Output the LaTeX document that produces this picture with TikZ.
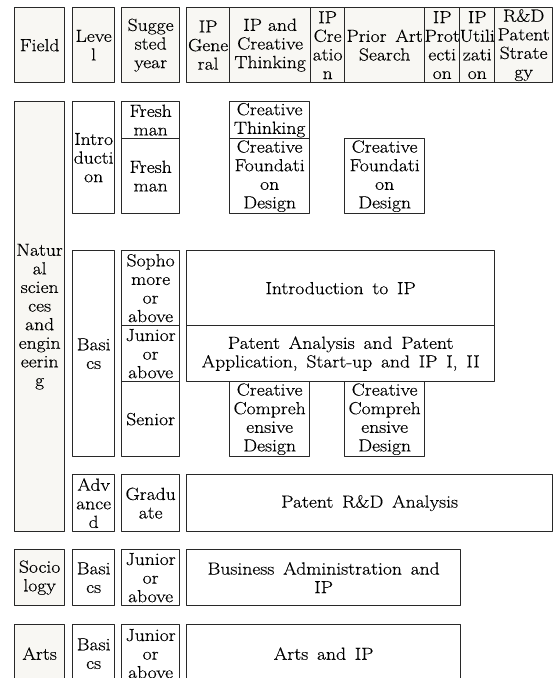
\documentclass[tikz,border=0pt]{standalone}
\usepackage{fontspec}
\setmainfont{Latin Modern Roman}[FakeStretch=1.12,FakeBold=0.4]
\definecolor{beige}{RGB}{248,247,243}
\definecolor{edge}{RGB}{40,40,40}
\begin{document}
\begin{tikzpicture}[x=1pt,y=-1pt,line join=round,
    box/.style={draw=edge,line width=1.3pt,fill=white,anchor=north west,align=center,inner sep=0pt,
        font=\fontsize{17.5}{18.6}\selectfont},
    head/.style={box,fill=beige},
    wh/.style 2 args={minimum width=#1pt,minimum height=#2pt}]
    \useasboundingbox (0,0) rectangle (558,678);
    % header row
    \node[head,wh={50}{75}] (field) at (14,7) {Field};
    \node[head,wh={42}{75}] (level) at (72,7) {Leve\\l};
    \node[head,wh={58}{75}] (year) at (121,7) {Sugge\\sted\\year};
    \node[head,wh={43}{75}] (ipgen) at (186,7) {IP\\Gene\\ral};
    \node[head,wh={81}{75}] (ipthink) at (229,7) {IP and\\Creative\\Thinking};
    \node[head,wh={34}{75}] (ipcre) at (310,7) {IP\\Cre\\atio\\n};
    \node[head,wh={80}{75}] (prior) at (344,7) {Prior\enspace Art\\Search};
    \node[head,wh={35}{75}] (ipprot) at (424,7) {IP\\Prot\\ecti\\on};
    \node[head,wh={35}{75}] (iputil) at (459,7) {IP\\Utili\\zati\\on};
    \node[head,wh={58}{75}] (rndstrat) at (494,7) {R\&D\\Patent\\Strate\\gy};
    % natural sciences and engineering
    \node[head,wh={50}{430}] (natsci) at (14,101) {Natur\\al\\scien\\ces\\and\\engin\\eerin\\g};
    \node[box,wh={42}{112}] (intro) at (72,101) {Intro\\ducti\\on};
    \node[box,wh={58}{37}] (fresha) at (121,101) {Fresh\\man};
    \node[box,wh={58}{75}] (freshb) at (121,138) {Fresh\\man};
    \node[box,wh={80}{37}] (crthink) at (229,101) {Creative\\Thinking};
    \node[box,wh={80}{75}] (cfounda) at (229,138) {Creative\\Foundati\\on\\Design};
    \node[box,wh={80}{75}] (cfoundb) at (344,138) {Creative\\Foundati\\on\\Design};
    \node[box,wh={42}{206}] (basics) at (72,250) {Basi\\cs};
    \node[box,wh={58}{75}] (soph) at (121,250) {Sopho\\more\\or\\above};
    \node[box,wh={58}{56}] (junior) at (121,325) {Junior\\or\\above};
    \node[box,wh={58}{75}] (senior) at (121,381) {Senior};
    \node[box,wh={308}{75}] (introip) at (186,250) {Introduction\enspace to\enspace IP};
    \node[box,wh={308}{56}] (patana) at (186,325) {Patent\enspace Analysis\enspace and\enspace Patent\\Application,\enspace Start-up\enspace and\enspace IP\enspace I,\enspace II};
    \node[box,wh={80}{75}] (ccompa) at (229,381) {Creative\\Compreh\\ensive\\Design};
    \node[box,wh={80}{75}] (ccompb) at (344,381) {Creative\\Compreh\\ensive\\Design};
    \node[box,wh={42}{57}] (adv) at (72,474) {Adv\\ance\\d};
    \node[box,wh={58}{57}] (grad) at (121,474) {Gradu\\ate};
    \node[box,wh={366}{57}] (rndana) at (186,474) {Patent\enspace R\&D\enspace Analysis};
    % sociology
    \node[head,wh={50}{56}] (socio) at (14,549) {Socio\\logy};
    \node[box,wh={42}{56}] (sociobas) at (72,549) {Basi\\cs};
    \node[box,wh={58}{56}] (sociojun) at (121,549) {Junior\\or\\above};
    \node[box,wh={274}{56}] (busadm) at (186,549) {Business\enspace Administration\enspace and\\IP};
    % arts
    \node[head,wh={50}{58}] (arts) at (14,624) {Arts};
    \node[box,wh={42}{58}] (artsbas) at (72,624) {Basi\\cs};
    \node[box,wh={58}{58}] (artsjun) at (121,624) {Junior\\or\\above};
    \node[box,wh={274}{58}] (artsip) at (186,624) {Arts\enspace and\enspace IP};
\end{tikzpicture}
\end{document}
